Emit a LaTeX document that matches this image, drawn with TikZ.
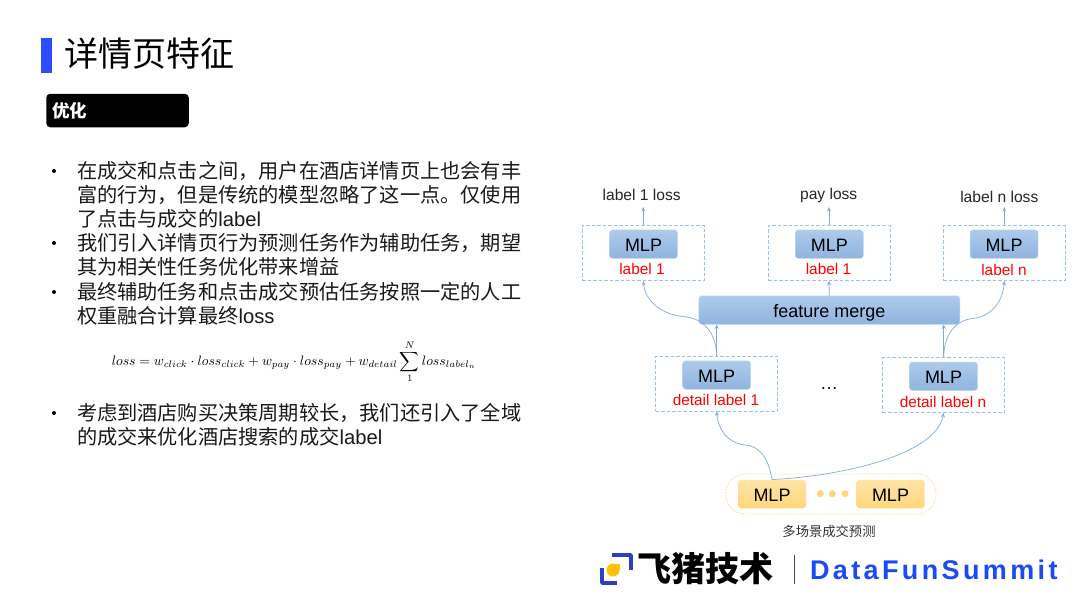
\documentclass[tikz,border=0pt]{standalone}
\usepackage{fontspec}
\setmainfont{Liberation Sans}
\newfontfamily\cjk{Noto Sans CJK SC}
\newfontfamily\logofont[LetterSpace=12.5]{Liberation Sans}
\usetikzlibrary{arrows.meta}
\definecolor{barblue}{HTML}{2F4BFF}
\definecolor{linkblue}{HTML}{7FAEDC}
\definecolor{dashblue}{HTML}{9CC2E5}
\definecolor{logoblue}{HTML}{1A4BF5}
\definecolor{logoindigo}{HTML}{2E3FC4}
\definecolor{bluetop}{HTML}{ADCAEB}
\definecolor{bluebot}{HTML}{8FB4DF}
\definecolor{blueedge}{HTML}{C5DAF0}
\definecolor{yelltop}{HTML}{FFE4A6}
\definecolor{yellbot}{HTML}{FFD67C}
\definecolor{yelldotc}{HTML}{FFD67C}
\definecolor{logoyellow}{HTML}{FFC107}
\tikzset{
  x=1pt,y=-1pt,
  txt/.style={inner sep=0pt,outer sep=0pt},
  bodyline/.style={txt,anchor=west,font=\fontsize{20.2}{24}\selectfont\cjk,text=black!90},
  bulletdot/.style={circle,fill=black,inner sep=0pt,minimum size=4pt},
  bluebox/.style={rounded corners=3pt,draw=blueedge,line width=0.5pt,top color=bluetop,bottom color=bluebot,inner sep=0pt,minimum width=68pt,minimum height=28.5pt,text height=14pt,text depth=0pt,font=\fontsize{18}{20}\selectfont},
  yellowbox/.style={rounded corners=3pt,top color=yelltop,bottom color=yellbot,inner sep=0pt,minimum width=68pt,minimum height=28.5pt,text height=14pt,text depth=0pt,font=\fontsize{18}{20}\selectfont},
  dashbox/.style={draw=dashblue,line width=0.9pt,dash pattern=on 3.5pt off 2pt,inner sep=0pt,minimum width=122pt,minimum height=55pt},
  redlabel/.style={txt,text=red,font=\fontsize{15.4}{18}\selectfont},
  losslabel/.style={txt,text=black!85,font=\fontsize{15.6}{18}\selectfont},
  link/.style={draw=linkblue,line width=0.7pt,-{Stealth[length=4.5pt,width=4pt]}},
  yelldot/.style={circle,fill=yelldotc,inner sep=0pt,minimum size=7pt},
}
\begin{document}
\begin{tikzpicture}
\useasboundingbox (0,0) rectangle (1080,608);
\fill[white] (0,0) rectangle (1080,608);
% header
\fill[barblue] (41,38) rectangle (52,73);
\node[txt,anchor=west] (title) at (64,54) {\fontsize{34}{40}\selectfont\cjk 详情页特征};
\node[fill=black,rounded corners=4pt,minimum width=142.5pt,minimum height=33.5pt,inner sep=0pt] (tag) at (117.5,110.5) {};
\node[txt,anchor=west,text=white] (tagtext) at (52,111) {\fontsize{17.5}{20}\selectfont\cjk\bfseries 优化};
% bullets
\foreach \n/\y in {a/171,b/243,c/292,d/413}{\node[bulletdot] (dot\n) at (54,\y) {};}
\node[bodyline] (l1) at (77,171) {在成交和点击之间，用户在酒店详情页上也会有丰};
\node[bodyline] (l2) at (77,195) {富的行为，但是传统的模型忽略了这一点。仅使用};
\node[bodyline] (l3) at (77,219) {了点击与成交的{\rmfamily label}};
\node[bodyline] (l4) at (77,243) {我们引入详情页行为预测任务作为辅助任务，期望};
\node[bodyline] (l5) at (77,267) {其为相关性任务优化带来增益};
\node[bodyline] (l6) at (77,292) {最终辅助任务和点击成交预估任务按照一定的人工};
\node[bodyline] (l7) at (77,316) {权重融合计算最终{\rmfamily loss}};
\node[bodyline] (l8) at (77,413) {考虑到酒店购买决策周期较长，我们还引入了全域};
\node[bodyline] (l9) at (77,437) {的成交来优化酒店搜索的成交{\rmfamily label}};
% formula
\node[txt,scale=1.37,anchor=center] (formula) at (294,361.5)
 {$\displaystyle loss = w_{click}\cdot loss_{click}+w_{pay}\cdot loss_{pay}+w_{detail}\sum_{1}^{N} loss_{label_n}$};
% top row
\node[dashbox] (boxA) at (643.3,253) {};
\node[dashbox] (boxB) at (829,253) {};
\node[dashbox] (boxC) at (1004.3,253) {};
\node[bluebox] (mlpA) at (643.5,244.2) {MLP};
\node[bluebox] (mlpB) at (829.3,244.2) {MLP};
\node[bluebox] (mlpC) at (1004,244.2) {MLP};
\node[redlabel] (redA) at (642,269) {label 1};
\node[redlabel] (redB) at (828.5,269) {label 1};
\node[redlabel] (redC) at (1004,270) {label n};
\node[losslabel] (lossA) at (641.7,195) {label 1 loss};
\node[losslabel] (lossB) at (828.7,195.5) {pay loss};
\node[losslabel] (lossC) at (999.3,197) {label n loss};
\coordinate (tipA) at (643.3,207);
\coordinate (tipB) at (829,207);
\coordinate (tipC) at (1004.3,207);
\node[bluebox,minimum width=261pt] (merge) at (829.3,310) {feature merge};
% detail row
\node[dashbox] (lowL) at (716.7,383.5) {};
\node[dashbox] (lowR) at (943.7,385) {};
\node[bluebox] (mlpL) at (716.7,375) {MLP};
\node[bluebox] (mlpR) at (943.5,376.3) {MLP};
\node[redlabel] (redL) at (716,400) {detail label 1};
\node[redlabel] (redR) at (943,402) {detail label n};
\node[txt,font=\fontsize{18}{20}\selectfont] (ellipsis) at (829,388.5) {…};
% bottom row
\node[draw=yelltop!90!orange,line width=0.8pt,dash pattern=on 1.5pt off 1.5pt,rounded corners=19pt,minimum width=210pt,minimum height=40pt,inner sep=0pt] (group) at (831,494) {};
\node[yellowbox] (mlpX) at (772,494) {MLP};
\node[yellowbox] (mlpY) at (890.5,494) {MLP};
\node[yelldot] (d1) at (820.3,493.7) {};
\node[yelldot] (d2) at (832.3,493.7) {};
\node[yelldot] (d3) at (845,493.7) {};
\node[txt,text=black!80] (caption) at (829,531.7) {\fontsize{13.3}{15}\selectfont\cjk 多场景成交预测};
% connectors
\draw[link] (boxA.north) -- (tipA);
\draw[link] (boxB.north) -- (tipB);
\draw[link] (boxC.north) -- (tipC);
\draw[link] (merge.north) -- (boxB.south);
\draw[link] (lowL.north) -- (lowL.north |- merge.south);
\draw[link] (lowR.north) -- (lowR.north |- merge.south);
\draw[link] (lowL.north) .. controls (716,332) and (703,318) .. (683,316.5) .. controls (660,314) and (645,300) .. (boxA.south);
\draw[link] (lowR.north) .. controls (944,335) and (955,320) .. (973,318.5) .. controls (993,316) and (1003,300) .. (boxC.south);
\draw[link] (mlpX.north) .. controls (769,462) and (762,446) .. (745,445) .. controls (728,443) and (718,430) .. (lowL.south);
\draw[link] (mlpX.north) .. controls (830,477) and (935,458) .. (lowR.south);
% logo
\draw[logoindigo,line width=3.6pt,line join=round] (612,555) -- (631,555) -- (631,570);
\draw[logoindigo,line width=3.6pt,line join=round] (602,568) -- (602,583) -- (616.5,583);
\fill[logoyellow] (613,570) circle[radius=6.5];
\fill[logoyellow] (613,563.5) rectangle (619.5,570);
\node[txt,anchor=west] (feizhu) at (637,569) {\fontsize{34}{36}\selectfont\cjk\bfseries 飞猪技术};
\draw[black!70,line width=0.8pt] (794.7,555) -- (794.7,584);
\node[txt,anchor=west,text=logoblue] (dfs) at (810,570) {\fontsize{27}{30}\selectfont\logofont\bfseries DataFunSummit};
\end{tikzpicture}
\end{document}
